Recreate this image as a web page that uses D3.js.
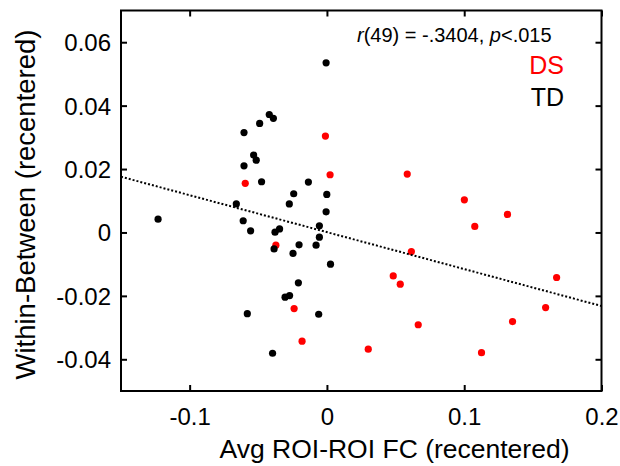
<!DOCTYPE html>
<html>
<head>
<meta charset="utf-8">
<script src="https://cdn.jsdelivr.net/npm/d3@7"></script>
<style>
  html, body { margin: 0; padding: 0; background: #fff; }
  svg { display: block; font-family: "Liberation Sans", Arial, Helvetica, sans-serif; }
</style>
</head>
<body>
<svg id="chart" width="620" height="466"></svg>
<script>
// ---- data ----
const dsX = [-0.0011, 0.0023, -0.0595, -0.0372, -0.0239, -0.0181, 0.0585, 0.1001, 0.1315, 0.1077, 0.0615, 0.0483, 0.0534, 0.1673, 0.1593, 0.1352, 0.0665, 0.0301, 0.1126];
const dsY = [0.0304, 0.0182, 0.0155, -0.0040, -0.0240, -0.0343, 0.0184, 0.0103, 0.0057, 0.0019, -0.0060, -0.0137, -0.0163, -0.0142, -0.0237, -0.0281, -0.0291, -0.0368, -0.0379];
const tdX = [-0.0006, -0.0604, -0.0490, -0.0420, -0.0390, -0.0534, -0.0515, -0.0604, -0.0476, -0.0135, -0.0242, -0.0001, -0.0660, -0.0274, -0.1230, -0.0610, -0.0006, -0.0556, -0.0055, -0.0378, -0.0345, -0.0055, -0.0385, -0.0203, -0.0247, -0.0079, 0.0026, -0.0208, -0.0272, -0.0305, -0.0580, -0.0060, -0.0396];
const tdY = [0.0535, 0.0315, 0.0344, 0.0372, 0.0360, 0.0244, 0.0228, 0.0210, 0.0160, 0.0159, 0.0122, 0.0120, 0.0090, 0.0090, 0.0042, 0.0037, 0.0065, 0.0005, 0.0021, 0.0001, 0.0011, -0.0015, -0.0052, -0.0039, -0.0066, -0.0040, -0.0100, -0.0159, -0.0199, -0.0204, -0.0256, -0.0258, -0.0381];
const xTicks = [-0.1, 0, 0.1, 0.2];
const yTicks = [-0.04, -0.02, 0, 0.02, 0.04, 0.06];
const xTickLabels = ["-0.1", "0", "0.1", "0.2"];
const yTickLabels = ["-0.04", "-0.02", "0", "0.02", "0.04", "0.06"];
const xDomain = [-0.15, 0.2];
const yDomain = [-0.05, 0.07];
const fitSlope = -0.1165;
const fitIntercept = 0.0001;
const statText = ["r", "(49) = -.3404, ", "p", "<.015"];
const legendLabels = ["DS", "TD"];
const xTitle = "Avg ROI-ROI FC (recentered)";
const yTitle = "Within-Between (recentered)";

// ---- layout ----
const L = 121, R = 601.5, T = 10.5, B = 391;
const svg = d3.select("#chart");
const x = d3.scaleLinear().domain(xDomain).range([L, R]);
const y = d3.scaleLinear().domain(yDomain).range([B, T]);
const fmtX = (d, i) => xTickLabels[i];
const fmtY = (d, i) => yTickLabels[i];

// axes (inward ticks)
const tickLen = 6;
const gB = svg.append("g").attr("transform", `translate(0,${B})`)
  .call(d3.axisBottom(x).tickValues(xTicks).tickFormat(fmtX).tickSizeInner(-tickLen).tickSizeOuter(0));
gB.selectAll("text").attr("y", 34).attr("dy", 0).attr("font-size", 24).attr("fill", "#000");
const gT = svg.append("g").attr("transform", `translate(0,${T})`)
  .call(d3.axisTop(x).tickValues(xTicks).tickFormat("").tickSizeInner(-tickLen).tickSizeOuter(0));
const gL = svg.append("g").attr("transform", `translate(${L},0)`)
  .call(d3.axisLeft(y).tickValues(yTicks).tickFormat(fmtY).tickSizeInner(-tickLen).tickSizeOuter(0));
gL.selectAll("text").attr("x", -10).attr("dy", "0.35em").attr("font-size", 24).attr("fill", "#000");
const gR = svg.append("g").attr("transform", `translate(${R},0)`)
  .call(d3.axisRight(y).tickValues(yTicks).tickFormat("").tickSizeInner(-tickLen).tickSizeOuter(0));
[gB, gT, gL, gR].forEach(g => {
  g.select(".domain").remove();
  g.selectAll(".tick line").attr("stroke", "#000").attr("stroke-width", 2);
  g.attr("font-family", null);
});

// frame
svg.append("rect").attr("x", L).attr("y", T).attr("width", R - L).attr("height", B - T)
  .attr("fill", "none").attr("stroke", "#000").attr("stroke-width", 2);

// points
const r = 3.6;
svg.append("g").selectAll("circle").data(d3.zip(dsX, dsY)).join("circle")
  .attr("cx", d => x(d[0])).attr("cy", d => y(d[1])).attr("r", r).attr("fill", "#f00");
svg.append("g").selectAll("circle").data(d3.zip(tdX, tdY)).join("circle")
  .attr("cx", d => x(d[0])).attr("cy", d => y(d[1])).attr("r", r).attr("fill", "#000");

// regression line
svg.append("line")
  .attr("x1", x(xDomain[0])).attr("y1", y(fitIntercept + fitSlope * xDomain[0]))
  .attr("x2", x(xDomain[1])).attr("y2", y(fitIntercept + fitSlope * xDomain[1]))
  .attr("stroke", "#000").attr("stroke-width", 2).attr("stroke-dasharray", "2,2");

// stat text
const st = svg.append("text").attr("x", 357).attr("y", 42).attr("font-size", 20).attr("fill", "#000");
statText.forEach((s, i) => st.append("tspan").text(s).attr("font-style", i % 2 === 0 ? "italic" : "normal"));

// legend
svg.append("g").selectAll("text").data(legendLabels).join("text")
  .attr("x", 564).attr("y", (d, i) => 74 + i * 32)
  .attr("text-anchor", "end").attr("font-size", 25)
  .attr("fill", (d, i) => i === 0 ? "#f00" : "#000").text(d => d);

// axis titles
svg.append("text").attr("x", (218 + 571) / 2).attr("y", 458).attr("text-anchor", "middle")
  .attr("font-size", 26.5).attr("fill", "#000").text(xTitle);
svg.append("text").attr("transform", `translate(35,${(25 + 384) / 2}) rotate(-90)`)
  .attr("text-anchor", "middle").attr("font-size", 27.5).attr("fill", "#000").text(yTitle);
</script>
</body>
</html>
